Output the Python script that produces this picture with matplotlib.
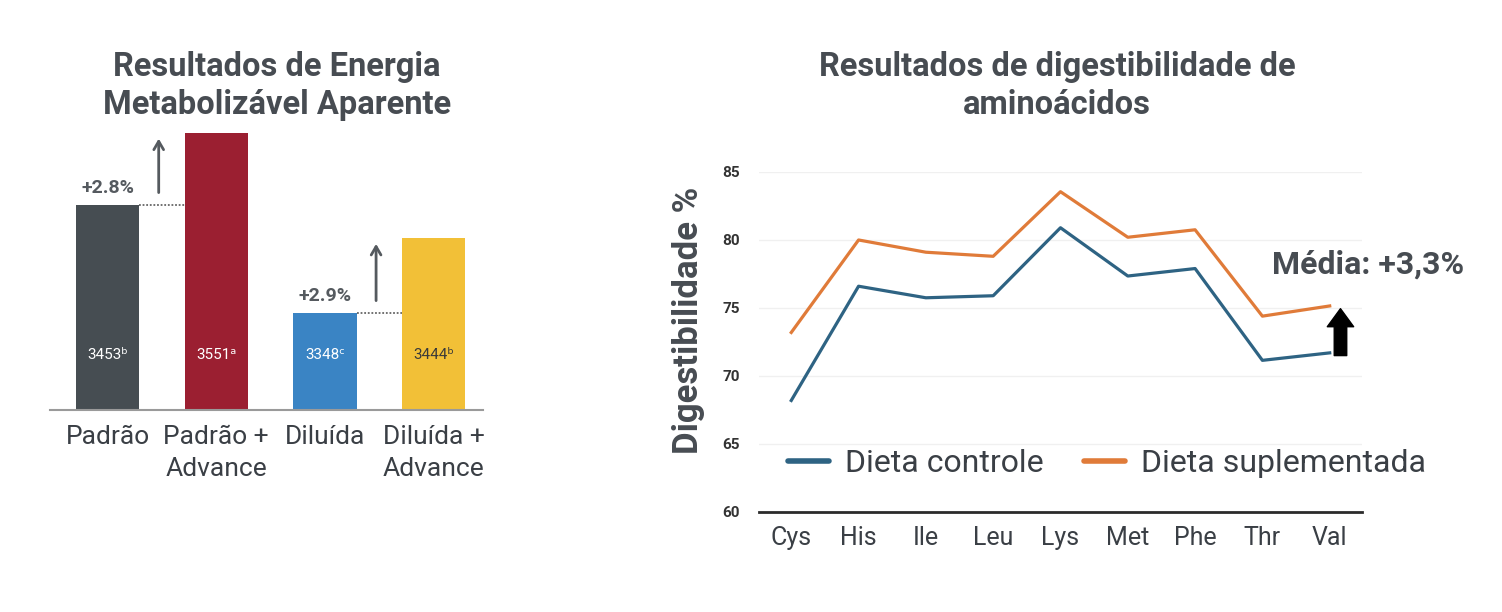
import matplotlib.pyplot as plt
import numpy as np

plt.rcParams['font.family'] = ['Roboto', 'DejaVu Sans']

# left chart: apparent metabolizable energy
bar_names = ["Padrão", "Padrão +\nAdvance", "Diluída", "Diluída +\nAdvance"]
bar_values = ["3453", "3551", "3348", "3444"]
bar_letters = ["ᵇ", "ᵃ", "ᶜ", "ᵇ"]
bar_heights = [74, 100, 35, 62]  # relative heights as drawn in the picture
bar_colors = ["#464d52", "#9b1f31", "#3a84c4", "#f2c037"]
gains = ["+2.8%", "+2.9%"]

# right chart: amino acid digestibility
amino = ["Cys", "His", "Ile", "Leu", "Lys", "Met", "Phe", "Thr", "Val"]
controle = [68.2, 76.6, 75.75, 75.9, 80.9, 77.35, 77.9, 71.15, 71.7]
suplementada = [73.2, 80.0, 79.1, 78.8, 83.55, 80.2, 80.75, 74.4, 75.15]

title_color = "#474c52"
text_color = "#3a3f45"

fig = plt.figure(figsize=(15.02, 6.12), dpi=100)

# ---- left
ax1 = fig.add_axes([0.0333, 0.330, 0.288, 0.4526])
x = np.arange(len(bar_names))
ax1.bar(x, bar_heights, width=0.58, color=bar_colors)
ax1.set_xlim(-0.53, 3.45)
ax1.set_ylim(0, 100)
for s in ["top", "right", "left"]:
    ax1.spines[s].set_visible(False)
ax1.spines["bottom"].set_color("#9a9a9a")
ax1.spines["bottom"].set_linewidth(1.5)
ax1.set_yticks([])
ax1.set_xticks(x)
ax1.set_xticklabels(bar_names, fontsize=19, color=text_color, linespacing=1.4)
ax1.tick_params(axis="x", length=0, pad=11)
for i in range(4):
    tc = "#3a3a3a" if i == 3 else "white"
    ax1.text(x[i], 20, bar_values[i] + bar_letters[i], ha="center", va="center",
             fontsize=11, color=tc)
for g, (a, b) in enumerate([(0, 1), (2, 3)]):
    h = bar_heights[a]
    ax1.plot([x[a] + 0.29, x[b] - 0.29], [h, h], ls=(0, (1, 1)), color="#666666", lw=1.3)
    ax1.text(x[a], h + 3, gains[g], ha="center", va="bottom", fontsize=14,
             fontweight="bold", color="#555a5f")
    xm = (x[a] + x[b]) / 2 - 0.03
    ax1.annotate("", xy=(xm, bar_heights[b] - 1), xytext=(xm, h + 3.5),
                 arrowprops=dict(arrowstyle="->,head_length=0.6,head_width=0.35",
                                 color="#555a5f", lw=2), annotation_clip=False)
fig.text(0.1845, 0.86, "Resultados de Energia\nMetabolizável Aparente", ha="center",
         va="center", fontsize=23.5, fontweight="bold", color=title_color, linespacing=1.25)

# ---- right
ax2 = fig.add_axes([0.5053, 0.1634, 0.4015, 0.5556])
xa = np.arange(len(amino))
ax2.plot(xa, controle, color="#2e6383", lw=2.3, label="Dieta controle")
ax2.plot(xa, suplementada, color="#e07b39", lw=2.3, label="Dieta suplementada")
ax2.set_xlim(-0.48, 8.48)
ax2.set_ylim(60, 85)
ax2.set_yticks([60, 65, 70, 75, 80, 85])
ax2.grid(axis="y", color="#f0f0f0", lw=1)
ax2.set_axisbelow(True)
for s in ["top", "right", "left"]:
    ax2.spines[s].set_visible(False)
ax2.spines["bottom"].set_color("#2b2b2b")
ax2.spines["bottom"].set_linewidth(2)
ax2.set_xticks(xa)
ax2.set_xticklabels(amino, fontsize=18, color=text_color)
ax2.tick_params(axis="x", length=0, pad=10)
ax2.tick_params(axis="y", length=0, pad=14, labelsize=11)
for lab in ax2.get_yticklabels():
    lab.set_fontweight("bold")
    lab.set_color("#333333")
ax2.set_ylabel("Digestibilidade %", fontsize=25, fontweight="bold", color=title_color)
ax2.yaxis.set_label_coords(-0.09, 0.565)
leg = ax2.legend(loc="lower left", bbox_to_anchor=(0.0, 0.015), ncol=2, frameon=False,
                 fontsize=23, handlelength=1.3, handletextpad=0.5, columnspacing=1.25,
                 labelcolor=text_color)
for line in leg.get_lines():
    line.set_linewidth(4)
    line.set_solid_capstyle("round")
ax2.text(8.57, 78.2, "Média: +3,3%", ha="center", va="center", fontsize=23,
         fontweight="bold", color=title_color)
ax2.annotate("", xy=(8.16, suplementada[-1] - 0.2), xytext=(8.16, controle[-1] - 0.2),
             arrowprops=dict(arrowstyle="simple,head_length=0.65,head_width=0.95,tail_width=0.45",
                             color="black", mutation_scale=20, shrinkA=0, shrinkB=0))
fig.text(0.7037, 0.86, "Resultados de digestibilidade de\naminoácidos", ha="center",
         va="center", fontsize=23.5, fontweight="bold", color=title_color, linespacing=1.25)

fig.savefig("out.png", dpi=100)
